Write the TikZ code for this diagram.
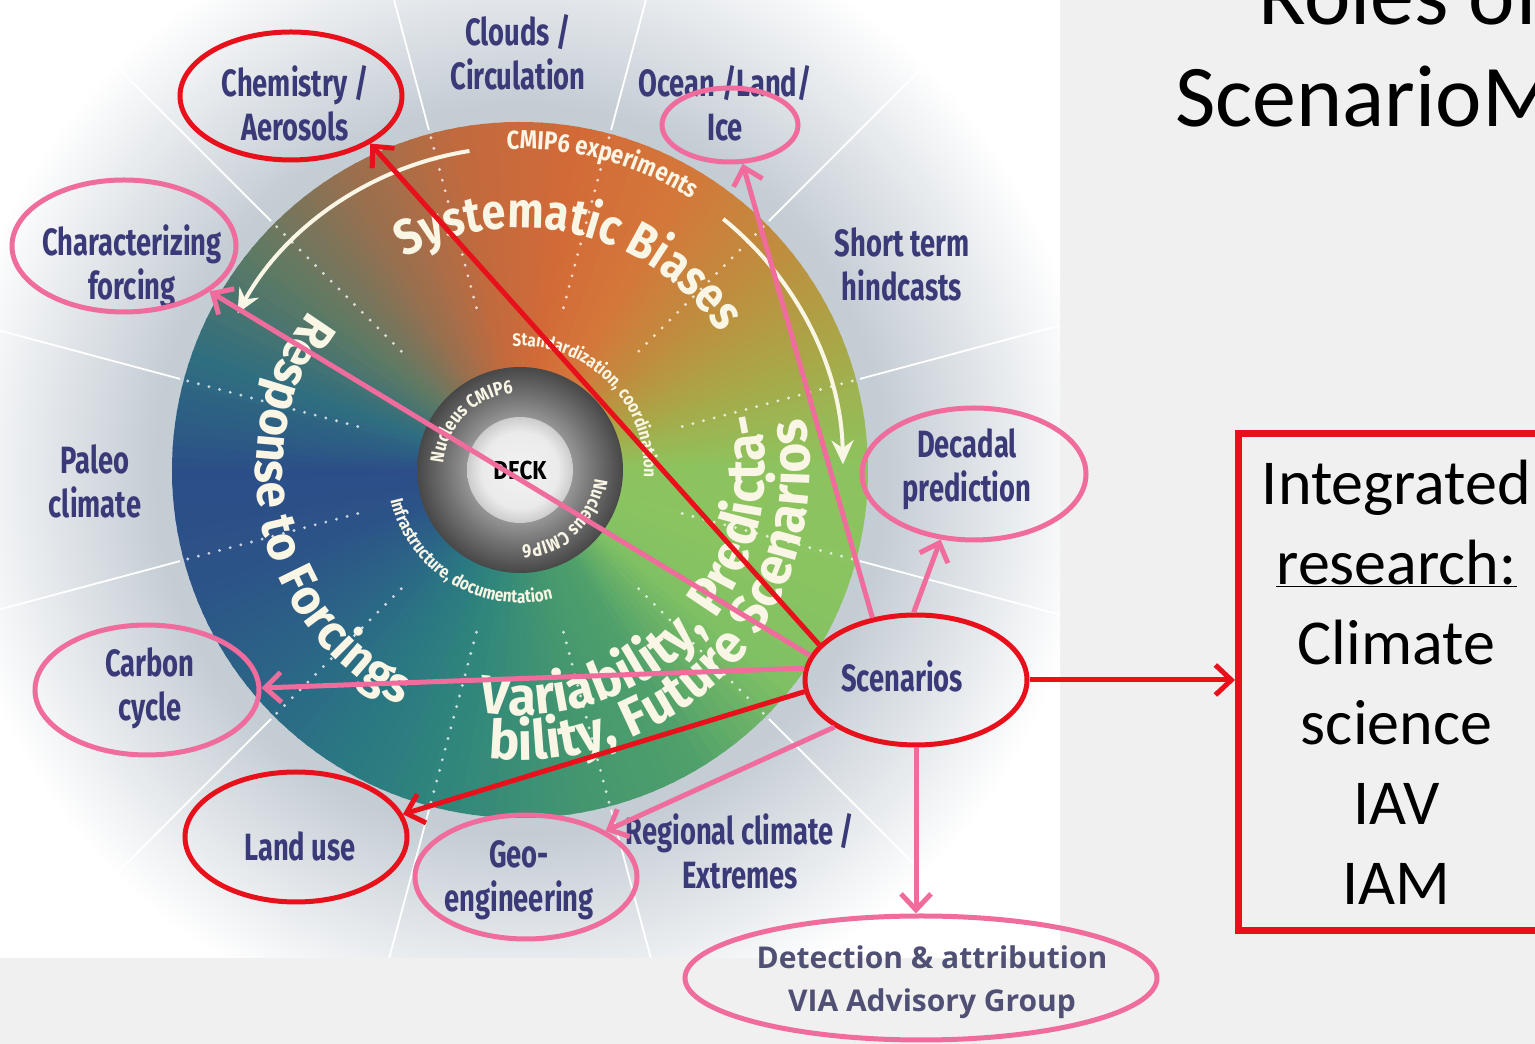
\documentclass[tikz,border=0pt]{standalone}
\usepackage{fontspec}
\usetikzlibrary{arrows.meta,shapes.geometric,decorations.text}
\newfontfamily\lblfam[FakeStretch=0.72]{Fira Sans}
\newfontfamily\whlfam[FakeStretch=0.86]{Fira Sans}
\newfontfamily\whlfamB[FakeStretch=0.95]{Fira Sans}
\newfontfamily\smfam[FakeStretch=0.85]{Fira Sans}
\newfontfamily\calfam{Carlito}
\newfontfamily\opfam{Open Sans}
\newcommand\lblfont{\lblfam\bfseries\fontsize{38}{44}\selectfont}
\newcommand\bigwf{\whlfam\bfseries\fontsize{50}{54}\selectfont}
\newcommand\bigrf{\whlfamB\bfseries\fontsize{50}{54}\selectfont}
\newcommand\bigvf{\whlfamB\bfseries\fontsize{54}{58}\selectfont}
\newcommand\smwf[1]{\smfam\bfseries\fontsize{#1}{#1}\selectfont}
\definecolor{redc}{HTML}{E8101A}
\definecolor{pinkc}{HTML}{EF6C9C}
\definecolor{lblc}{HTML}{3B3A78}
\definecolor{bgc}{HTML}{F0F0F0}
\definecolor{haloc}{HTML}{C4CCD4}
\definecolor{creamc}{HTML}{FAF6E6}
\definecolor{detc}{HTML}{505075}
\definecolor{c0}{HTML}{8DC35E}
\definecolor{c1}{HTML}{A9A848}
\definecolor{c2}{HTML}{C08C3E}
\definecolor{c3}{HTML}{D4773A}
\definecolor{c4}{HTML}{D26A38}
\definecolor{c5}{HTML}{C06A3E}
\definecolor{c6}{HTML}{977050}
\definecolor{c7}{HTML}{5E7A64}
\definecolor{c8}{HTML}{2F6E80}
\definecolor{c9}{HTML}{2B4E88}
\definecolor{c10}{HTML}{2C5488}
\definecolor{c11}{HTML}{2B6686}
\definecolor{c12}{HTML}{2A7A82}
\definecolor{c13}{HTML}{33897A}
\definecolor{c14}{HTML}{44966F}
\definecolor{c15}{HTML}{50A06B}
\definecolor{c16}{HTML}{80C064}
\definecolor{c17}{HTML}{8AC460}
\definecolor{c18}{HTML}{8DC35E}
\pgfdeclareradialshading{halo}{\pgfpointorigin}{color(0bp)=(haloc); color(13bp)=(haloc); color(20.5bp)=(white); color(50bp)=(white)}
\pgfdeclareradialshading{ringsh}{\pgfpointorigin}{color(0bp)=(black!40); color(13bp)=(black!42); color(18bp)=(black!55); color(25bp)=(black!72); color(50bp)=(black!72)}
\pgfdeclareradialshading{discsh}{\pgfpointorigin}{color(0bp)=(white!95!black); color(18bp)=(white!92!black); color(25bp)=(white!80!black); color(50bp)=(white!80!black)}
\tikzset{
  ell/.style={ellipse, draw=#1, line width=5pt, inner sep=0pt},
  lbl/.style={font=\lblfont, text=lblc, align=center, inner sep=0pt},
  arr/.style={line width=5pt, -{Straight Barb[length=16pt,width=30pt]}},
  whitearc/.style={creamc, line width=4pt, -{Stealth[length=24pt,width=22pt]}},
  dotline/.style={white, opacity=0.75, line width=3.2pt, line cap=round, dash pattern=on 0pt off 11pt},
  sepline/.style={white, line width=1.8pt}
}
\begin{document}
\begin{tikzpicture}[x=1pt,y=1pt]
\useasboundingbox (0,0) rectangle (1535,1044);
\clip (0,0) rectangle (1535,1044);
\fill[bgc] (0,0) rectangle (1535,1044);
% white panel with halo
\begin{scope}
  \clip (0,86) rectangle (1060,1044);
  \fill[white] (0,86) rectangle (1060,1044);
  \shade[shading=halo] (520,574) circle (700);
  \begin{scope}[shift={(520,574)}]
    \foreach \a in {15,45,...,345} \draw[sepline] (\a:352) -- (\a:580);
  \end{scope}
\end{scope}
% wheel
\begin{scope}[shift={(520,574)}]
  \foreach \i in {0,...,17} {
    \pgfmathtruncatemacro\j{\i+1}
    \foreach \s in {0,2,...,18} {
      \pgfmathtruncatemacro\p{100-5*\s}
      \pgfmathtruncatemacro\a{20*\i+\s}
      \colorlet{cur}{c\i!\p!c\j}
      \fill[cur] (0,0) -- (\a:348) arc[start angle=\a, end angle=\a+2.6, radius=348] -- cycle;
    }
  }
  \foreach \a in {15,45,...,345} \draw[dotline] (\a:168) -- (\a:345);
  \shade[shading=ringsh] (0,0) circle (103);
  \shade[shading=discsh] (0,0) circle (53);
  \node[font=\whlfam\bfseries\fontsize{26}{26}\selectfont, text=black] (deck) at (0,0) {DECK};
  % curved texts
  \path[decorate, decoration={text along path, text align=center, text={|\bigwf\color{creamc}|Systematic Biases}}]
    (136.5:242) arc[start angle=136.5, end angle=16.5, radius=242];
  \path[decorate, decoration={text along path, text align=center, text={|\bigrf\color{creamc}|Response to Forcings}}]
    (128:264) arc[start angle=128, end angle=258, radius=264];
  \path[decorate, decoration={text along path, text align=center, text={|\bigvf\color{creamc}|Variability, Predicta-}}]
    (-112:245) arc[start angle=-112, end angle=26, radius=245];
  \path[decorate, decoration={text along path, text align=center, text={|\bigvf\color{creamc}|bility, Future Scenarios}}]
    (-112:290) arc[start angle=-112, end angle=26, radius=290];
  \path[decorate, decoration={text along path, text align=center, text={|\smwf{26}\color{creamc}|CMIP6 experiments}}]
    (105:321) arc[start angle=105, end angle=45, radius=321];
  \path[decorate, decoration={text along path, text align=center, text={|\smwf{18}\color{creamc}|Standardization, coordination}}]
    (115:124) arc[start angle=115, end angle=-25, radius=124];
  \path[decorate, decoration={text along path, text align=center, text={|\smwf{18}\color{creamc}|Infrastructure, documentation}}]
    (168.75:133) arc[start angle=168.75, end angle=308.75, radius=133];
  \path[decorate, decoration={text along path, text align=center, text={|\smwf{19}\color{creamc}|Nucleus CMIP6}}]
    (195:77) arc[start angle=195, end angle=75, radius=77];
  \path[decorate, decoration={text along path, text align=center, text={|\smwf{19}\color{creamc}|Nucleus CMIP6}}]
    (12.5:75) arc[start angle=12.5, end angle=-107.5, radius=75];
  \draw[whitearc] (99:323) arc[start angle=99, end angle=151, radius=323];
  \draw[whitearc] (51:323) arc[start angle=51, end angle=1, radius=323];
\end{scope}
% labels
\node[lbl] (cloudsT) at (518,992) {Clouds /\\Circulation};
\node[lbl] (oceanT) at (725,941) {Ocean /Land/\\Ice};
\node[lbl] (chemT) at (295,941) {Chemistry /\\Aerosols};
\node[lbl] (shortT) at (902,780) {Short term\\hindcasts};
\node[lbl] (charT) at (132,778) {Characterizing\\forcing};
\node[lbl] (decT) at (967,575) {Decadal\\prediction};
\node[lbl] (paleoT) at (95,563) {Paleo\\climate};
\node[lbl] (carbT) at (150,356) {Carbon\\cycle};
\node[lbl] (landT) at (300,198) {Land use};
\node[lbl] (geoT) at (519,164) {Geo-\\engineering};
\node[lbl] (regT) at (740,193) {Regional climate /\\Extremes};
\node[lbl] (scenT) at (902,368) {Scenarios};
\node[font=\opfam\bfseries\fontsize{30}{43}\selectfont, text=detc, align=center, inner sep=0pt] (detT) at (932,62) {Detection \& attribution\\VIA Advisory Group};
% ellipses
\node[ell=redc, minimum width=222pt, minimum height=128pt] (chem) at (291,948) {};
\node[ell=pinkc, minimum width=224pt, minimum height=132pt] (charf) at (124,798) {};
\node[ell=pinkc, minimum width=136pt, minimum height=74pt] (ice) at (730,919) {};
\node[ell=pinkc, minimum width=224pt, minimum height=132pt] (dec) at (974,570) {};
\node[ell=pinkc, minimum width=224pt, minimum height=130pt] (carb) at (147,354) {};
\node[ell=redc, minimum width=222pt, minimum height=130pt] (land) at (296,207) {};
\node[ell=pinkc, minimum width=222pt, minimum height=124pt] (geo) at (526,167) {};
\node[ell=pinkc, minimum width=472pt, minimum height=124pt] (det) at (921,66) {};
\node[ell=redc, minimum width=222pt, minimum height=130pt] (scen) at (916,364) {};
% result box and title
\node[draw=redc, line width=7pt, minimum width=316pt, minimum height=497pt, anchor=north west, inner sep=0pt,
      font=\calfam\fontsize{64}{80}\selectfont, align=center, text=black] (resbox) at (1235,614)
      {Integrated\\\underline{research:}\\Climate\\science\\IAV\\IAM};
\node[font=\calfam\fontsize{88}{100}\selectfont, anchor=base, inner sep=0pt] (title1) at (1400,1019) {Roles of};
\node[font=\calfam\fontsize{88}{100}\selectfont, anchor=base, inner sep=0pt] (title2) at (1400,917) {ScenarioMIP};
% connectors
\draw[arr, pinkc] (scen.167) -- (charf.-28);
\draw[arr, pinkc] (scen.125) -- (ice.-72);
\draw[arr, pinkc] (scen.92) -- (dec.-117);
\draw[arr, pinkc] (scen.174) -- (carb.1);
\draw[arr, pinkc] (scen.210) -- (geo.30);
\draw[arr, pinkc] (scen.south) -- (scen.south |- det.north);
\draw[arr, redc] (scen.160) -- (chem.-31);
\draw[arr, redc] (scen.186) -- (land.12);
\draw[arr, redc] (scen.east) -- (scen.east -| resbox.west);
\end{tikzpicture}
\end{document}
